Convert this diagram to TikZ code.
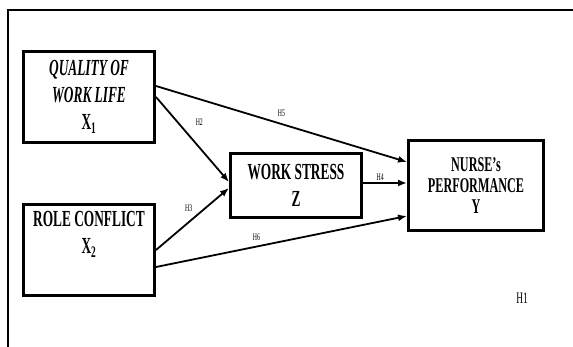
\documentclass[tikz,border=0pt]{standalone}
\usepackage{fontspec}
\setmainfont{Liberation Serif}[FakeStretch=0.58]
\usepackage{tikz}
\usetikzlibrary{arrows.meta}
\tikzset{>={Latex[length=9pt,width=7pt]}}
\tikzstyle{var box}=[draw,line width=3pt,align=center,inner sep=2pt,
  font=\fontsize{23}{27}\selectfont\bfseries,minimum width=131pt,minimum height=91pt]
\tikzstyle{path arrow}=[->,line width=1.8pt]
\tikzstyle{hyp label}=[font=\fontsize{10}{10}\selectfont,inner sep=1pt]

\begin{document}
\begin{tikzpicture}[x=1pt,y=-1pt]
  \useasboundingbox (0,0) rectangle (573,347);

  % FRAME
  \draw[line width=1.2pt] (573,10) -- (8,10) -- (8,347);

  % VARIABLES
  \node[var box] (X1) at (89,97) {\textit{QUALITY OF}\\\textit{WORK LIFE}\\X\textsubscript{1}};
  \node[var box] (X2) at (89,250) {ROLE CONFLICT\\X\textsubscript{2}\\\strut};
  \node[var box,minimum height=64pt] (Z) at (296,185.5) {WORK STRESS\\Z};
  \node[var box,minimum width=135pt,minimum height=90pt,
    font=\fontsize{21}{21}\selectfont\bfseries] (Y) at (476,185.5)
    {NURSE’s\\PERFORMANCE\\Y};

  % PATHS
  \draw[path arrow] (X1.east) -- ([yshift=3.5pt]Z.west)
    node[hyp label,pos=0.3,right=16pt] (h2) {H2};
  \draw[path arrow] (X2.east) -- ([yshift=-2.5pt]Z.west)
    node[hyp label,pos=0.55,above left=2pt] (h3) {H3};
  \draw[path arrow] ([yshift=2.5pt]Z.east) -- ([yshift=2.5pt]Y.west)
    node[hyp label,pos=0.39,above=1pt] (h4) {H4};
  \draw[path arrow] ([yshift=11pt]X1.east) -- ([yshift=23.5pt]Y.west)
    node[hyp label,pos=0.5,above=5pt] (h5) {H5};
  \draw[path arrow] ([yshift=-17pt]X2.east) -- ([yshift=-30.5pt]Y.west)
    node[hyp label,pos=0.4,above=4pt] (h6) {H6};

  % H1
  \node[font=\fontsize{16}{16}\selectfont] (h1) at (522,298) {H1};
\end{tikzpicture}
\end{document}
